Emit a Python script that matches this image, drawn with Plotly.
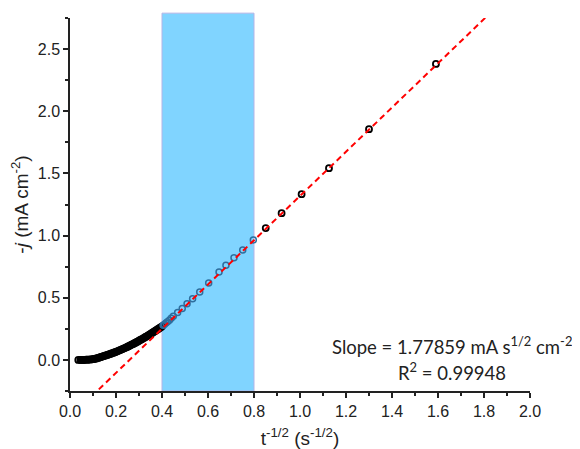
import plotly.graph_objects as go

# --- data ---
# full transient (black open circles), x = t^-1/2 (s^-1/2), y = -j (mA cm^-2)
x_all = [0.036, 0.045, 0.05, 0.055, 0.06, 0.065, 0.07, 0.075, 0.08, 0.085, 0.09, 0.095, 0.10,
         0.105, 0.11, 0.115, 0.12, 0.125, 0.13, 0.135, 0.14, 0.145, 0.15, 0.155, 0.16, 0.165,
         0.17, 0.175, 0.18, 0.185, 0.19, 0.195, 0.20, 0.205, 0.21, 0.215, 0.22, 0.225, 0.23,
         0.235, 0.24, 0.245, 0.25, 0.255, 0.26, 0.265, 0.27, 0.275, 0.28, 0.285, 0.29, 0.295,
         0.30, 0.305, 0.31, 0.315, 0.32, 0.325, 0.33, 0.335, 0.34, 0.345, 0.35, 0.355, 0.36,
         0.365, 0.37, 0.375, 0.38, 0.385, 0.39, 0.395, 0.40,
         0.851, 0.920, 1.007, 1.126, 1.300, 1.591]
y_all = [0.000, 0.000, 0.000, 0.000, 0.001, 0.001, 0.002, 0.002, 0.003, 0.003, 0.004, 0.005, 0.006,
         0.008, 0.010, 0.012, 0.015, 0.018, 0.021, 0.024, 0.027, 0.030, 0.033, 0.036, 0.039, 0.042,
         0.045, 0.048, 0.052, 0.055, 0.058, 0.062, 0.065, 0.069, 0.073, 0.077, 0.081, 0.085, 0.089,
         0.093, 0.097, 0.101, 0.106, 0.110, 0.115, 0.120, 0.125, 0.129, 0.134, 0.139, 0.144, 0.149,
         0.155, 0.160, 0.165, 0.170, 0.176, 0.181, 0.187, 0.192, 0.198, 0.204, 0.210, 0.215, 0.221,
         0.227, 0.233, 0.239, 0.245, 0.251, 0.257, 0.263, 0.270,
         1.060, 1.180, 1.333, 1.542, 1.856, 2.381]

# points used for the fit (blue open circles, 0.4 - 0.8)
x_fit_pts = [0.405, 0.41, 0.417, 0.424, 0.432, 0.44, 0.449, 0.468, 0.488, 0.509, 0.533, 0.564,
             0.603, 0.648, 0.678, 0.713, 0.751, 0.797]
y_fit_pts = [0.278, 0.285, 0.296, 0.307, 0.320, 0.335, 0.352, 0.381, 0.413, 0.451, 0.491, 0.547,
             0.619, 0.708, 0.762, 0.821, 0.885, 0.965]

slope = 1.77859
intercept = -0.46
r_squared = 0.99948
fit_x = [0.0, 2.0]
fit_y = [slope * v + intercept for v in fit_x]

region = [0.4, 0.8]

x_ticks = [0.0, 0.2, 0.4, 0.6, 0.8, 1.0, 1.2, 1.4, 1.6, 1.8, 2.0]
y_ticks = [0.0, 0.5, 1.0, 1.5, 2.0, 2.5]

fig = go.Figure()

fig.add_shape(type="rect", xref="x", yref="paper", x0=region[0], x1=region[1], y0=0, y1=1.013,
              fillcolor="#80D4FF", line=dict(color="#B4B4E6", width=1), layer="below")

fig.add_trace(go.Scatter(x=x_all, y=y_all, mode="markers", showlegend=False,
                         marker=dict(symbol="circle-open", size=6, color="black",
                                     line=dict(width=1.8, color="black"))))
fig.add_trace(go.Scatter(x=x_fit_pts, y=y_fit_pts, mode="markers", showlegend=False,
                         marker=dict(symbol="circle-open", size=6, color="#2E6E9E",
                                     line=dict(width=1.5, color="#2E6E9E"))))
fig.add_trace(go.Scatter(x=fit_x, y=fit_y, mode="lines", showlegend=False,
                         line=dict(color="#FF0000", width=2, dash="6px,4px")))

axis_common = dict(showgrid=False, zeroline=False, showline=True, linecolor="#222222",
                   linewidth=1.5, ticks="outside", ticklen=5, tickwidth=1.5, tickcolor="#222222",
                   tickfont=dict(family="Liberation Sans, Arial", size=16, color="#222222"),
                   mirror=False, automargin=False)

fig.update_xaxes(range=[0, 2.0], tickvals=x_ticks, ticktext=[f"{v:.1f}" for v in x_ticks],
                 minor=dict(tickvals=[0.1, 0.3, 0.5, 0.7, 0.9, 1.1, 1.3, 1.5, 1.7, 1.9],
                            ticks="outside", ticklen=3, tickwidth=1.5, tickcolor="#222222"),
                 title=dict(text="t<sup>-1/2</sup> (s<sup>-1/2</sup>)", standoff=13,
                            font=dict(family="Liberation Sans, Arial", size=19, color="#222222")),
                 **axis_common)
fig.update_yaxes(range=[-0.25, 2.75], tickvals=y_ticks, ticktext=[f"{v:.1f}" for v in y_ticks],
                 minor=dict(tickvals=[-0.25, 0.25, 0.75, 1.25, 1.75, 2.25, 2.75],
                            ticks="outside", ticklen=3, tickwidth=1.5, tickcolor="#222222"),
                 title=dict(text="-<i>j</i> (mA cm<sup>-2</sup>)", standoff=4,
                            font=dict(family="Liberation Sans, Arial", size=19, color="#222222")),
                 **axis_common)

ann_font = dict(family="Lato", size=18.5, color="#222222")
fig.add_annotation(xref="paper", yref="paper", x=0.830, y=0.123, xanchor="center", yanchor="middle",
                   text=f"Slope = {slope} mA s<sup>1/2</sup> cm<sup>-2</sup>", showarrow=False,
                   font=ann_font)
fig.add_annotation(xref="paper", yref="paper", x=0.830, y=0.051, xanchor="center", yanchor="middle",
                   text=f"R<sup>2</sup> = {r_squared}", showarrow=False, font=ann_font)

fig.update_layout(width=580, height=449, margin=dict(l=62, r=58, t=10, b=66),
                  plot_bgcolor="white", paper_bgcolor="white")

fig.write_html("out.html")
